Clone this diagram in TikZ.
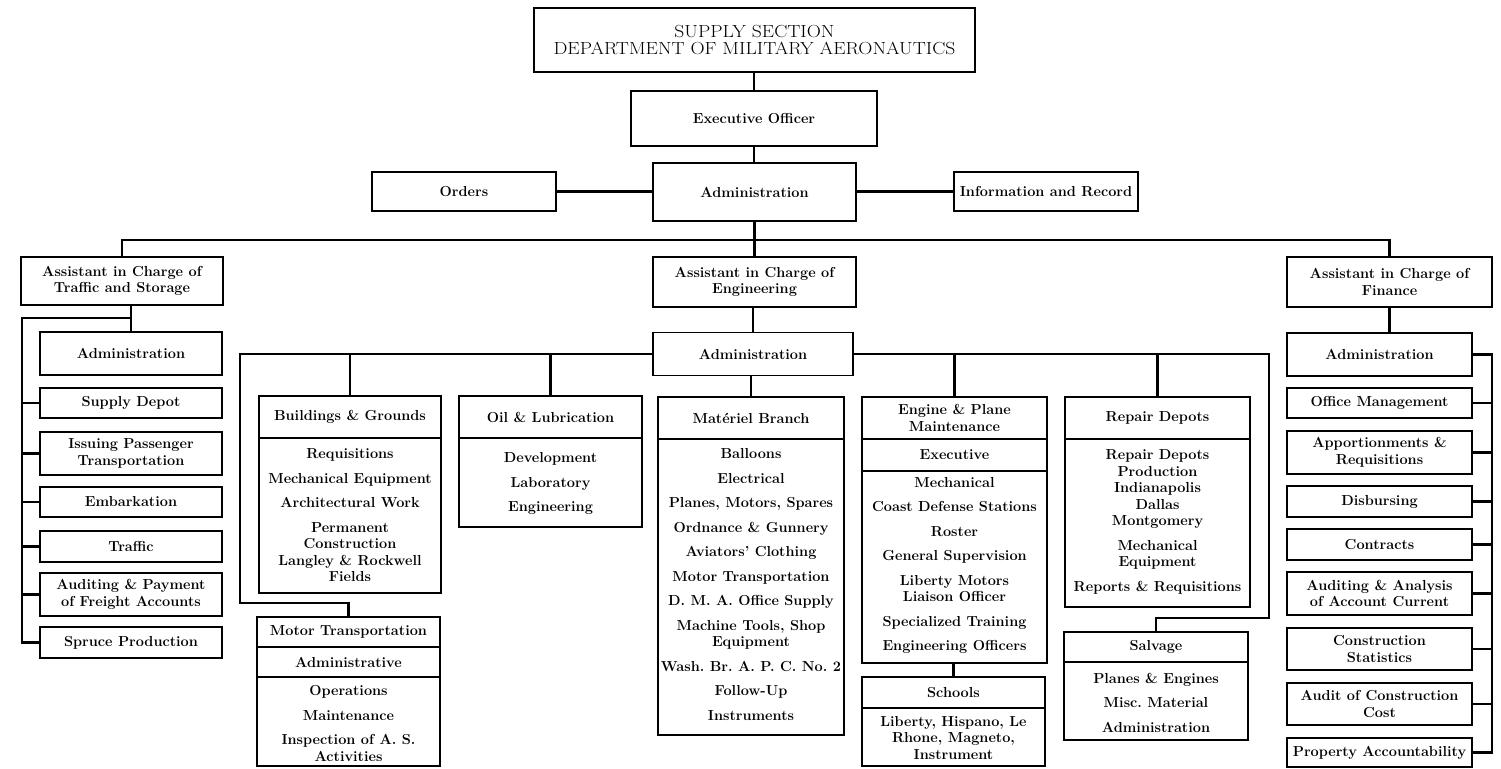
\documentclass[tikz,border=0pt]{standalone}
\usepackage{fontspec}
\frenchspacing
\newcommand\mkbox[6]{\node[box,minimum width=#4pt,minimum height=#5pt] (#1) at (#2,#3) {#6};}
\newcommand\mksec[5]{\node[sec,minimum width=#4pt,minimum height=#5pt] (#1) at (#2,#3) {};}
\newcommand\mkdiv[2]{\draw[divl] (#1.west |- 0,#2) -- (#1.east |- 0,#2);}
\newcommand\wide[1]{\scalebox{1.12}[1]{#1}}
\begin{document}
\begin{tikzpicture}[x=1pt,y=-1pt,
 box/.style={draw,line width=1.5pt,inner sep=1pt,align=center,font=\bfseries\fontsize{14.5}{16.5}\selectfont},
 sec/.style={draw,line width=1.5pt,inner sep=0pt},
 txt/.style={inner sep=0pt,align=center,font=\bfseries\fontsize{14.5}{16.5}\selectfont},
 conn/.style={line width=2.8pt},
 divl/.style={line width=1.5pt}]
\fill[white] (0,0) rectangle (1501,768);
\useasboundingbox (0,0) rectangle (1501,768);

% top
\node[box,font=\fontsize{17.5}{16.5}\selectfont,minimum width=441pt,minimum height=64pt] (title) at (754.5,40) {\wide{SUPPLY SECTION}\\\wide{DEPARTMENT OF MILITARY AERONAUTICS}};
\mkbox{exec}{754}{118.5}{246}{55}{Executive Officer}
\mkbox{adm0}{754.5}{192}{203}{58}{Administration}
\mkbox{orders}{464}{191.5}{184}{39}{Orders}
\mkbox{info}{1046}{191.5}{184}{39}{Information and Record}
\mkbox{asstT}{122}{281}{202}{48}{Assistant in Charge of\\Traffic and Storage}
\mkbox{asstE}{754.5}{282}{203}{50}{Assistant in Charge of\\Engineering}
\mkbox{asstF}{1389.5}{282}{205}{50}{Assistant in Charge of\\Finance}

\draw[conn] (exec.north) -- (exec.north |- title.south);
\draw[conn] (exec.south) -- (exec.south |- adm0.north);
\draw[conn] (orders.east) -- (orders.east -| adm0.west);
\draw[conn] (info.west) -- (info.west -| adm0.east);
\coordinate (bus) at (754.5,240);
\draw[conn] (adm0.south) -- (asstE.north);
\draw[conn] (asstT.north) |- (bus) -| (asstF.north);

% left column
\mkbox{admT}{131}{353.5}{182}{43}{Administration}
\mkbox{supply}{131}{403}{182}{30}{Supply Depot}
\mkbox{issuing}{131}{453.5}{182}{43}{Issuing Passenger\\Transportation}
\mkbox{embark}{131}{502}{182}{30}{Embarkation}
\mkbox{traffic}{131}{546.5}{182}{31}{Traffic}
\mkbox{auditT}{131}{594.5}{182}{43}{Auditing \& Payment\\of Freight Accounts}
\mkbox{spruce}{131}{642.5}{182}{31}{Spruce Production}
\coordinate (tj) at (131,318);
\coordinate (tl) at (22,318);
\draw[conn] (admT.north) -- (admT.north |- asstT.south);
\draw[conn] (tj) -- (tl) |- (spruce.west);
\foreach \n in {supply,issuing,embark,traffic,auditT} \draw[conn] (tl) |- (\n.west);

% finance column
\mkbox{admF}{1379.5}{354.5}{185}{43}{Administration}
\mkbox{offm}{1379.5}{403}{185}{30}{Office Management}
\mkbox{apport}{1379.5}{452.5}{185}{43}{Apportionments \&\\Requisitions}
\mkbox{disb}{1379.5}{501.5}{185}{31}{Disbursing}
\mkbox{contracts}{1379.5}{544.5}{185}{31}{Contracts}
\mkbox{auditA}{1379.5}{593.5}{185}{43}{Auditing \& Analysis\\of Account Current}
\mkbox{constat}{1379.5}{649}{185}{42}{Construction\\Statistics}
\mkbox{auditC}{1379.5}{704}{185}{42}{Audit of Construction\\Cost}
\mkbox{prop}{1379.5}{752.5}{185}{29}{Property Accountability}
\draw[conn] (asstF.south) -- (asstF.south |- admF.north);
\coordinate (fr) at (1492,354.5);
\draw[conn] (admF.east) -- (fr) |- (prop.east);
\foreach \n in {offm,apport,disb,contracts,auditA,constat,auditC} \draw[conn] (fr) |- (\n.east);

% engineering
\mkbox{admE}{753}{354}{200}{43}{Administration}
\draw[conn] (admE.north) -- (admE.north |- asstE.south);
\coordinate (eL) at (240,354);
\coordinate (eR) at (1269,354);
\coordinate (mj) at (240,603);
\coordinate (sj) at (1269,618);

\mksec{bg}{350}{494.5}{182}{197}
\mkdiv{bg}{438}
\node[txt] (bgh) at (350,417) {Buildings \& Grounds};
\node[txt] (bgb) at (350,515.5) {Requisitions\\[8pt]Mechanical Equipment\\[8pt]Architectural Work\\[8pt]Permanent\\Construction\\Langley \& Rockwell\\Fields};

\mksec{oil}{550.5}{461.5}{183}{131}
\mkdiv{oil}{438}
\node[txt] (oilh) at (550.5,417) {Oil \& Lubrication};
\node[txt] (oilb) at (550.5,483.5) {Development\\[8pt]Laboratory\\[8pt]Engineering};

\mksec{mat}{751}{566}{186}{338}
\mkdiv{mat}{439}
\node[txt] (math) at (751,418) {Matériel Branch};
\node[txt] (matb) at (751,584.5) {Balloons\\[8pt]Electrical\\[8pt]Planes, Motors, Spares\\[8pt]Ordnance \& Gunnery\\[8pt]Aviators' Clothing\\[8pt]Motor Transportation\\[8pt]D. M. A. Office Supply\\[8pt]Machine Tools, Shop\\Equipment\\[8pt]Wash. Br. A. P. C. No. 2\\[8pt]Follow-Up\\[8pt]Instruments};

\mksec{eng}{954.5}{530}{185}{266}
\mkdiv{eng}{439}
\mkdiv{eng}{471}
\node[txt] (engh) at (954.5,418) {Engine \& Plane\\Maintenance};
\node[txt] (engx) at (954.5,455) {Executive};
\node[txt] (engb) at (954.5,565.5) {Mechanical\\[8pt]Coast Defense Stations\\[8pt]Roster\\[8pt]General Supervision\\[8pt]Liberty Motors\\Liaison Officer\\[8pt]Specialized Training\\[8pt]Engineering Officers};

\mksec{sch}{953.5}{721.5}{183}{89}
\mkdiv{sch}{708}
\node[txt] (schh) at (953.5,692.5) {Schools};
\node[txt] (schb) at (953.5,738) {Liberty, Hispano, Le\\Rhone, Magneto,\\Instrument};

\mksec{rep}{1157.5}{502}{185}{210}
\mkdiv{rep}{439}
\node[txt] (reph) at (1157.5,418) {Repair Depots};
\node[txt] (repb) at (1157.5,522) {Repair Depots\\Production\\Indianapolis\\Dallas\\Montgomery\\[8pt]Mechanical\\Equipment\\[8pt]Reports \& Requisitions};

\mksec{sal}{1156}{686}{184}{108}
\mkdiv{sal}{662}
\node[txt] (salh) at (1156,647) {Salvage};
\node[txt] (salb) at (1156,702.5) {Planes \& Engines\\[8pt]Misc. Material\\[8pt]Administration};

\mksec{mot}{348.5}{691.5}{183}{149}
\mkdiv{mot}{647}
\mkdiv{mot}{677}
\node[txt] (moth) at (348.5,632) {Motor Transportation};
\node[txt] (mota) at (348.5,662) {Administrative};
\node[txt] (motb) at (348.5,723.5) {Operations\\[8pt]Maintenance\\[8pt]Inspection of A. S.\\Activities};

% engineering connectors
\draw[conn] (admE.west) -- (eL) -- (mj) -| (mot.north);
\draw[conn] (admE.east) -- (eR) -- (sj) -| (sal.north);
\draw[conn] (bg.north) -- (bg.north |- eL);
\draw[conn] (oil.north) -- (oil.north |- eL);
\draw[conn] (eng.north) -- (eng.north |- eL);
\draw[conn] (rep.north) -- (rep.north |- eL);
\draw[conn] (mat.north) -- (mat.north |- admE.south);
\draw[conn] (sch.north) -- (sch.north |- eng.south);
\end{tikzpicture}
\end{document}
